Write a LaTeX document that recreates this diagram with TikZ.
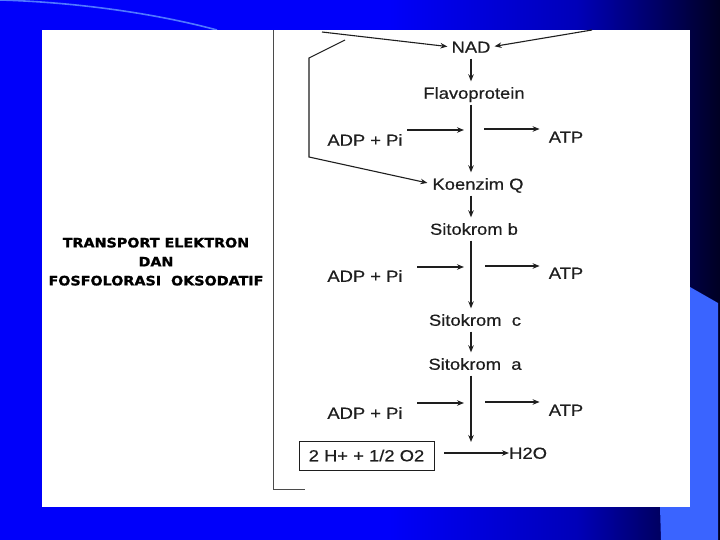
\documentclass[tikz,border=0pt]{standalone}
\usepackage{fontspec}
\usepackage{graphicx}
\setmainfont{Liberation Sans}
\newfontfamily\lblfont[FakeBold=0.4]{Liberation Sans}
\newfontfamily\titlefont[BoldFeatures={FakeBold=1.2}]{DejaVu Sans}
\usetikzlibrary{arrows.meta}
\definecolor{bgblue}{RGB}{0,0,250}
\definecolor{bgmid}{RGB}{0,0,185}
\definecolor{bgnavy}{RGB}{0,0,35}
\definecolor{sideblue}{RGB}{58,100,255}
\definecolor{arcblue}{RGB}{80,120,255}
\definecolor{ink}{RGB}{30,30,30}
\pgfdeclarehorizontalshading{slidebg}{100bp}{color(0bp)=(bgblue); color(25bp)=(bgblue); color(52bp)=(bgblue); color(65bp)=(bgmid); color(75bp)=(bgnavy); color(100bp)=(bgnavy)}
\newcommand{\widetxt}[1]{\scalebox{1.15}[1]{#1}}
\begin{document}
\begin{tikzpicture}[x=1pt,y=-1pt,
  lbl/.style={font=\lblfont\fontsize{16}{16}\selectfont, text=ink, inner sep=0pt, text height=11.5pt, text depth=0pt, minimum height=23pt},
  arr/.style={draw=ink, line width=1.1pt, -{Stealth[length=7pt,width=5.5pt]}},
  ln/.style={draw=ink, line width=0.9pt},
  titlestyle/.style={font=\titlefont\bfseries\fontsize{13}{17}\selectfont, align=center, text=black, inner sep=0pt}]
\useasboundingbox (0,0) rectangle (720,540);
\shade[shading=slidebg] (0,0) rectangle (720,540);
\draw[arcblue, line width=1.6pt] (0,0) .. controls (70,2) and (150,12) .. (217,30);
\fill[sideblue] (690,287) -- (718,303) -- (718,540) -- (661,540) -- (660,507) -- (690,507) -- cycle;
\fill[white] (42,30) rectangle (690,507);
% frame line
\coordinate (ftop) at (273,30);
\coordinate (fbot) at (273,489);
\coordinate (fend) at (305,489);
\draw[ln, draw=ink!80] (ftop) -- (fbot) -- (fend);
% title
\node[titlestyle] (title) at (156,263) {\scalebox{1.1}[1]{\begin{tabular}{@{}c@{}}TRANSPORT ELEKTRON\\[2pt]DAN\\[2pt]FOSFOLORASI\ \ OKSODATIF\end{tabular}}};
% chain nodes
\node[lbl] (nad) at (471,47) {\widetxt{NAD}};
\node[lbl] (flavo) at (474,93) {\widetxt{Flavoprotein}};
\node[lbl] (kq) at (478,184) {\widetxt{Koenzim Q}};
\node[lbl] (sb) at (474,229) {\widetxt{Sitokrom b}};
\node[lbl] (sc) at (475,320) {\widetxt{Sitokrom\ \ c}};
\node[lbl] (sa) at (475,364) {\widetxt{Sitokrom\ \ a}};
\node[lbl] (adp1) at (365,140) {\widetxt{ADP + Pi}};
\node[lbl] (atp1) at (566,137) {\widetxt{ATP}};
\node[lbl] (adp2) at (365,276) {\widetxt{ADP + Pi}};
\node[lbl] (atp2) at (566,273) {\widetxt{ATP}};
\node[lbl] (adp3) at (365,413) {\widetxt{ADP + Pi}};
\node[lbl] (atp3) at (566,410) {\widetxt{ATP}};
\node[draw=ink, line width=0.9pt, font=\lblfont\fontsize{16}{16}\selectfont, text=ink, inner sep=0pt, text height=11.5pt, text depth=0pt, minimum width=135pt, minimum height=29pt] (box) at (366.5,455.5) {\widetxt{2 H+ + 1/2 O2}};
\node[lbl, anchor=west] (h2o) at (509,453) {\widetxt{H2O}};
% inputs to NAD
\coordinate (in1) at (322,32);
\coordinate (in2) at (592,30);
\draw[arr, shorten >=4pt] (in1) -- (nad.west);
\draw[arr, shorten >=4pt] (in2) -- (nad.east);
% bypass to Koenzim Q
\coordinate (p0) at (345,40);
\coordinate (p1) at (309,58);
\coordinate (p2) at (309,157);
\draw[arr, shorten >=5pt] (p0) -- (p1) -- (p2) -- (kq.west);
% vertical chain (x of NAD)
\draw[arr] (nad.south) -- (nad.south |- flavo.north);
\draw[arr] (flavo.south -| nad) -- (kq.north -| nad);
\draw[arr] (kq.south -| nad) -- (sb.north -| nad);
\draw[arr] (sb.south -| nad) -- (sc.north -| nad);
\draw[arr] (sc.south -| nad) -- (sa.north -| nad);
\coordinate (vend) at (471,442);
\draw[arr] (sa.south -| nad) -- (vend);
% phosphorylation arrows
\coordinate (a1s) at (407,130); \coordinate (a1e) at (464,130);
\coordinate (t1s) at (484,129);
\draw[arr] (a1s) -- (a1e);
\draw[arr, shorten >=9pt] (t1s) -- (t1s -| atp1.west);
\coordinate (a2s) at (417,267); \coordinate (a2e) at (464,267);
\coordinate (t2s) at (485,266);
\draw[arr] (a2s) -- (a2e);
\draw[arr, shorten >=9pt] (t2s) -- (t2s -| atp2.west);
\coordinate (a3s) at (417,403); \coordinate (a3e) at (464,403);
\coordinate (t3s) at (485,402);
\draw[arr] (a3s) -- (a3e);
\draw[arr, shorten >=9pt] (t3s) -- (t3s -| atp3.west);
% water
\draw[arr] ([xshift=10pt]box.east |- h2o.west) -- (h2o.west);
\end{tikzpicture}
\end{document}
